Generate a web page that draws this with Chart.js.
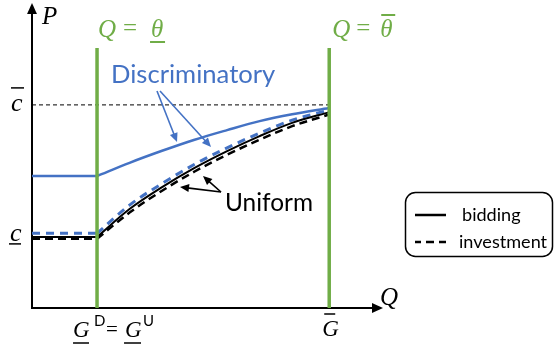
<!DOCTYPE html>
<html>
<head>
<meta charset="utf-8">
<script src="https://cdn.jsdelivr.net/npm/chart.js@4"></script>
<style>
  html, body { margin: 0; padding: 0; background: #fff; }
  #wrap { width: 555px; height: 347px; }
</style>
</head>
<body>
<div id="wrap"><canvas id="chart" width="555" height="347"></canvas></div>
<script>
// Quantity axis: lower bound θ at 1, upper bound θ̄ at 4.57
const qLow = 1;
const qHigh = 4.57;
const qPoints = [0, 1, 1.5, 2, 2.5, 3, 3.5, 4, 4.57];

// Price levels
const cHigh = 6.77;
const cLow = 2.37;
const greenTop = 8.67;

// Price curves, one value per entry of qPoints
const discBidding    = [4.40, 4.40, 4.84, 5.24, 5.61, 5.93, 6.23, 6.46, 6.67];
const discInvestment = [2.49, 2.49, 3.43, 4.15, 4.79, 5.34, 5.83, 6.26, 6.60];
const unifBidding    = [2.37, 2.37, 3.30, 4.03, 4.67, 5.23, 5.73, 6.17, 6.53];
const unifInvestment = [2.31, 2.31, 3.18, 3.91, 4.55, 5.11, 5.61, 6.06, 6.45];

const BLUE = '#4472C4';
const GREEN = '#70AD47';
const SANS = 'Lato, "Open Sans", sans-serif';
const SERIF = '"Liberation Serif", "DejaVu Serif", serif';

const toXY = ys => qPoints.map((q, i) => ({ x: q, y: ys[i] }));

// each curve = flat part up to qLow (straight) + rising part after it (smooth)
function curve(ys, style) {
    const pts = toXY(ys);
    const k = qPoints.indexOf(qLow);
    return [
        { ...style, data: pts.slice(0, k + 1), tension: 0 },
        { ...style, data: pts.slice(k), cubicInterpolationMode: 'monotone' }
    ];
}

function arrow(ctx, x1, y1, x2, y2, color, head = 9, width = 1.6) {
    const ang = Math.atan2(y2 - y1, x2 - x1);
    ctx.save();
    ctx.strokeStyle = color;
    ctx.fillStyle = color;
    ctx.lineWidth = width;
    ctx.beginPath();
    ctx.moveTo(x1, y1);
    ctx.lineTo(x2 - Math.cos(ang) * head * 0.8, y2 - Math.sin(ang) * head * 0.8);
    ctx.stroke();
    ctx.beginPath();
    ctx.moveTo(x2, y2);
    ctx.lineTo(x2 - head * Math.cos(ang) + head * 0.45 * Math.sin(ang),
               y2 - head * Math.sin(ang) - head * 0.45 * Math.cos(ang));
    ctx.lineTo(x2 - head * Math.cos(ang) - head * 0.45 * Math.sin(ang),
               y2 - head * Math.sin(ang) + head * 0.45 * Math.cos(ang));
    ctx.closePath();
    ctx.fill();
    ctx.restore();
}

// font size that makes text span the given width
function fitFont(ctx, text, width, family, weight = '') {
    ctx.font = `${weight} 20px ${family}`;
    const size = 20 * width / ctx.measureText(text).width;
    return `${weight} ${size.toFixed(1)}px ${family}`;
}

function hline(ctx, x1, x2, y, w = 1.5) {
    ctx.beginPath();
    ctx.lineWidth = w;
    ctx.moveTo(x1, y);
    ctx.lineTo(x2, y);
    ctx.stroke();
}

const decorations = {
    id: 'decorations',
    beforeDatasetsDraw(chart) {
        const { ctx, scales: { x, y } } = chart;
        const x0 = x.getPixelForValue(0);
        const y0 = y.getPixelForValue(0);
        // axes with arrow heads
        arrow(ctx, x0, y0 + 1, x0, y.top - 5, '#000', 11, 2);
        arrow(ctx, x0 - 1, y0, x.right + 5, y0, '#000', 11, 2);
    },
    afterDraw(chart) {
        const { ctx, scales: { x, y } } = chart;
        const px = v => x.getPixelForValue(v);
        const py = v => y.getPixelForValue(v);
        ctx.save();
        ctx.textBaseline = 'alphabetic';

        // axis names
        ctx.fillStyle = '#000';
        ctx.font = `italic 25px ${SERIF}`;
        ctx.fillText('P', 42, 24);
        ctx.fillText('Q', 380, 305);

        // price levels on the vertical axis
        ctx.strokeStyle = '#000';
        ctx.font = `italic 26px ${SERIF}`;
        ctx.fillText('c', 11, py(cHigh) + 6);
        hline(ctx, 11, 24, py(cHigh) - 17);
        ctx.fillText('c', 10, py(cLow) + 4);
        hline(ctx, 9, 21, py(cLow) + 7);

        // quantity labels under the axis
        ctx.font = `italic 23px ${SERIF}`;
        const gl = px(qLow);
        ctx.fillText('G', gl - 24, 337);
        hline(ctx, gl - 24, gl - 8, 343);
        ctx.fillText('G', gl + 28, 337);
        hline(ctx, gl + 27, gl + 44, 343);
        ctx.font = `15px ${SANS}`;
        ctx.fillText('D', gl - 3, 326);
        ctx.fillText('U', gl + 46, 326);
        ctx.font = `21px ${SERIF}`;
        ctx.fillText('=', gl + 9, 336);
        const gh = px(qHigh);
        ctx.font = `italic 23px ${SERIF}`;
        ctx.fillText('G', gh - 7, 336);
        hline(ctx, gh - 5, gh + 6, 314);

        // capacity bounds
        ctx.fillStyle = GREEN;
        ctx.strokeStyle = GREEN;
        ctx.font = `italic 25px ${SERIF}`;
        ctx.fillText('Q', gl + 1, 37);
        ctx.fillText('θ', gl + 54, 37);
        hline(ctx, gl + 53, gl + 68, 42, 2);
        ctx.fillText('Q', gh + 3, 37);
        ctx.fillText('θ', gh + 51, 37);
        hline(ctx, gh + 52, gh + 66, 15, 2);
        ctx.font = `25px ${SERIF}`;
        ctx.fillText('=', gl + 26, 36);
        ctx.fillText('=', gh + 27, 36);

        // curve annotations
        ctx.fillStyle = BLUE;
        ctx.font = fitFont(ctx, 'Discriminatory', 164, SANS);
        ctx.fillText('Discriminatory', 111, 83);
        arrow(ctx, 157, 91, 177, 142, BLUE);
        arrow(ctx, 160, 91, 211, 147, BLUE);

        ctx.fillStyle = '#000';
        ctx.font = fitFont(ctx, 'Uniform', 88, SANS);
        ctx.fillText('Uniform', 225, 211);
        arrow(ctx, 221, 192, 180, 187, '#000');
        arrow(ctx, 221, 192, 203, 176, '#000');

        // line style key
        ctx.strokeStyle = '#000';
        ctx.lineWidth = 1.5;
        ctx.beginPath();
        ctx.roundRect(405.5, 192.5, 147, 64, 10);
        ctx.stroke();
        hline(ctx, 415, 446, 215, 2.5);
        ctx.setLineDash([8, 5]);
        ctx.lineDashOffset = 15;
        hline(ctx, 415, 446, 242, 2.5);
        ctx.setLineDash([]);
        ctx.font = fitFont(ctx, 'investment', 88, SANS);
        ctx.fillText('bidding', 462, 221);
        ctx.fillText('investment', 459, 248);

        ctx.restore();
    }
};

new Chart(document.getElementById('chart'), {
    type: 'scatter',
    data: {
        datasets: [
            { // reference level c̄
                data: [{ x: 0, y: cHigh }, { x: qHigh, y: cHigh }],
                borderColor: '#000', borderWidth: 1, borderDash: [4, 3], order: 6
            },
            {
                data: [{ x: qLow, y: 0 }, { x: qLow, y: greenTop }],
                borderColor: GREEN, borderWidth: 3.5, order: 1
            },
            {
                data: [{ x: qHigh, y: 0 }, { x: qHigh, y: greenTop }],
                borderColor: GREEN, borderWidth: 3.5, order: 1
            },
            ...curve(discBidding, { label: 'Discriminatory bidding', borderColor: BLUE, borderWidth: 2.5, order: 2 }),
            ...curve(discInvestment, { label: 'Discriminatory investment', borderColor: BLUE, borderWidth: 3, borderDash: [8, 6], order: 5 }),
            ...curve(unifBidding, { label: 'Uniform bidding', borderColor: '#000', borderWidth: 2, order: 3 }),
            ...curve(unifInvestment, { label: 'Uniform investment', borderColor: '#000', borderWidth: 2.5, borderDash: [8, 5], order: 4 })
        ].map(d => ({ showLine: true, pointRadius: 0, fill: false, ...d }))
    },
    options: {
        responsive: false,
        animation: false,
        layout: { padding: { left: 32, top: 8, right: 177, bottom: 39 } },
        scales: {
            x: { type: 'linear', min: 0, max: 5.32, display: false },
            y: { type: 'linear', min: 0, max: 10, display: false }
        },
        plugins: { legend: { display: false }, tooltip: { enabled: false } }
    },
    plugins: [decorations]
});
</script>
</body>
</html>
